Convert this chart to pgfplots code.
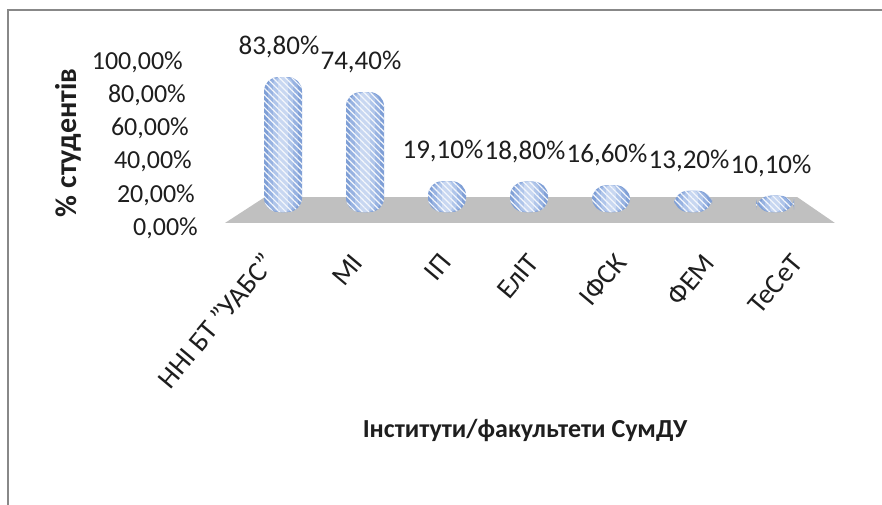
\documentclass[border=0pt]{standalone}
\usepackage{fontspec}
\setmainfont{Carlito}
\usepackage{pgfplots}
\pgfplotsset{compat=1.18}
\usetikzlibrary{patterns.meta}
\definecolor{barA}{HTML}{7F9FD6}
\definecolor{barB}{HTML}{97B2E1}
\definecolor{barC}{HTML}{AFC5EA}
\definecolor{barD}{HTML}{C8D7F1}
\definecolor{floorgray}{HTML}{C0C0C0}
\definecolor{framegray}{HTML}{888888}
\definecolor{txt}{HTML}{1E1E1E}
\pgfplotstableread{
x v
0 83.8
1 74.4
2 19.1
3 18.8
4 16.6
5 13.2
6 10.1
}\datatable
\begin{document}
\begin{tikzpicture}[x=1bp,y=1bp]
\path[use as bounding box] (0,-505) rectangle (882,0);
\draw[framegray, line width=2.5bp] (8,-506) -- (8,-10) -- (883,-10);
\begin{axis}[
  at={(242bp,-212bp)}, anchor=south west,
  scale only axis, width=574bp, height=161bp,
  xmin=-0.5, xmax=6.5, ymin=0, ymax=100,
  clip=false,
  axis line style={draw=none},
  major tick length=0pt,
  xtick={0,1,2,3,4,5,6},
  xticklabels={{ННІ БТ "УАБС"},МІ,ІП,ЕлІТ,ІФСК,ФЕМ,ТеСеТ},
  xticklabel style={xshift={-12bp+6bp*\ticknum}, yshift=-47bp, rotate=50, anchor=east, inner sep=0pt, text=txt,
    text height=20bp, text depth=6bp,
    font=\fontsize{28bp}{32bp}\selectfont},
  ytick={0,20,40,60,80,100},
  yticklabel={\pgfmathprintnumber[fixed,fixed zerofill,precision=2,use comma,assume math mode=true]{\tick}\%},
  yticklabel style={anchor=east, inner sep=0pt, text=txt,
    font=\fontsize{26bp}{30bp}\selectfont,
    xshift={-44bp-3bp*\ticknum}, yshift={-16bp+1bp*\ticknum}},
  xlabel={Інститути/факультети СумДУ},
  xlabel style={at={(axis description cs:0.493,-1.36)}, anchor=center,
    font=\bfseries\fontsize{26bp}{30bp}\selectfont, text=txt},
  ylabel={\% студентів},
  ylabel style={at={(axis description cs:-0.303,0.43)}, anchor=center,
    font=\bfseries\fontsize{30bp}{33bp}\selectfont, text=txt},
  every axis plot/.append style={bar shift=0pt},
]
\fill[floorgray] (axis cs:-0.707,-6.8) -- (axis cs:6.73,-6.8) -- (axis cs:6.27,9.3) -- (axis cs:-0.22,9.3) -- cycle;
\addplot[ybar, bar width=38bp, draw=none, fill=barA, rounded corners=14bp] table[x=x,y=v] {\datatable};
\addplot[ybar, bar width=30bp, draw=none, fill=barB, rounded corners=11bp] table[x=x,y=v] {\datatable};
\addplot[ybar, bar width=20bp, draw=none, fill=barC, rounded corners=8bp] table[x=x,y=v] {\datatable};
\addplot[ybar, bar width=10bp, draw=none, fill=barD, rounded corners=4bp] table[x=x,y=v] {\datatable};
\addplot[ybar, bar width=38bp, draw=none, rounded corners=14bp,
  pattern={Lines[angle=-45,distance=4.5bp,line width=1.2bp]}, pattern color=white!80!barD] table[x=x,y=v] {\datatable};
\addplot[draw=none, mark=none, point meta=y,
  nodes near coords={\pgfmathprintnumber[fixed,fixed zerofill,precision=2,use comma,assume math mode=true]{\pgfplotspointmeta}\%},
  every node near coord/.append style={anchor=center, yshift=30bp, xshift=-4bp, text=txt,
    font=\fontsize{27bp}{30bp}\selectfont}]
  table[x=x,y=v] {\datatable};
\end{axis}
\end{tikzpicture}
\end{document}
